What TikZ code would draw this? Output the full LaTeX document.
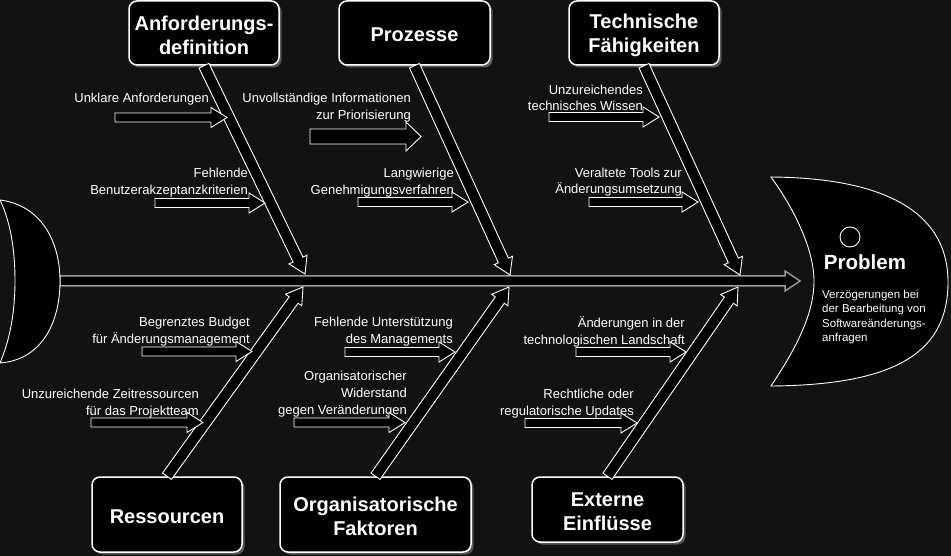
\documentclass[tikz,border=0pt]{standalone}
\usepackage{fontspec}
\setmainfont{Liberation Sans}
\usetikzlibrary{calc,shadows}

\definecolor{fishbg}{HTML}{121212}
\definecolor{spinegrey}{HTML}{9A9A9A}
\definecolor{boxshadow}{HTML}{595959}

% #1 style, #2 from, #3 to, #4 half width, #5 half head width, #6 head length
\newcommand{\fatarrow}[6][bone]{%
  \draw[#1] ($(#2)!#4!90:(#3)$) -- ($(#3)!#6!(#2)!#4!90:(#3)$)
    -- ($(#3)!#6!(#2)!#5!90:(#3)$) -- (#3)
    -- ($(#3)!#6!(#2)!#5!-90:(#3)$) -- ($(#3)!#6!(#2)!#4!-90:(#3)$)
    -- ($(#2)!#4!-90:(#3)$) -- cycle;}

\tikzset{
  category/.style={draw=white,line width=1.5pt,fill=black,rounded corners=8pt,
    drop shadow={shadow xshift=2.5pt,shadow yshift=-2.5pt,fill=boxshadow,opacity=1}},
  cattext/.style={text=white,font=\bfseries\fontsize{20}{24}\selectfont,align=center,inner sep=0pt},
  cause/.style={text=white,font=\fontsize{13}{17}\selectfont,align=right,anchor=east,inner sep=0pt},
  bone/.style={draw=white,fill=black,line width=0.9pt,line join=miter},
  spine/.style={draw=spinegrey,fill=black,line width=1.5pt},
  fishpart/.style={draw=white,fill=black,line width=0.9pt},
}

\begin{document}
\begin{tikzpicture}[x=1pt,y=-1pt]% [ show background grid ]
\fill[fishbg] (0,0) rectangle (951,556);
\useasboundingbox (0,0) rectangle (951,556);

\node[category,minimum width=150pt,minimum height=64pt] (anf) at (204,33) {};
\node[category,minimum width=151pt,minimum height=64pt] (proz) at (414.5,33) {};
\node[category,minimum width=150pt,minimum height=64pt] (tech) at (644,33) {};
\node[category,minimum width=150pt,minimum height=75pt] (ress) at (167,514.5) {};
\node[category,minimum width=191pt,minimum height=75pt] (org) at (375.5,514.5) {};
\node[category,minimum width=151pt,minimum height=65pt] (ext) at (607.5,509.5) {};
\node[cattext] (anf-text) at ([yshift=-2pt]anf.center) {Anforderungs-\\definition};
\node[cattext] (proz-text) at ([yshift=-2pt]proz.center) {Prozesse};
\node[cattext] (tech-text) at ([yshift=-2pt]tech.center) {Technische\\Fähigkeiten};
\node[cattext] (ress-text) at ([yshift=-2pt]ress.center) {Ressourcen};
\node[cattext] (org-text) at ([yshift=-2pt]org.center) {Organisatorische\\Faktoren};
\node[cattext] (ext-text) at ([yshift=-2pt]ext.center) {Externe\\Einflüsse};

\coordinate (tail) at (60,281);
\coordinate (head) at (800,281);
\fatarrow[spine]{tail}{head}{5pt}{10pt}{15pt}

\coordinate (anf-tip) at (305,274);
\coordinate (proz-tip) at (510,275);
\coordinate (tech-tip) at (740,275);
\coordinate (ress-tip) at (303,287);
\coordinate (org-tip) at (509,287);
\coordinate (ext-tip) at (738,287);
\fatarrow{anf.south}{anf-tip}{5.5pt}{10pt}{16pt}
\fatarrow{proz.south}{proz-tip}{5.5pt}{10pt}{16pt}
\fatarrow{tech.south}{tech-tip}{5.5pt}{10pt}{16pt}
\fatarrow{ress.north}{ress-tip}{5.5pt}{10pt}{16pt}
\fatarrow{org.north}{org-tip}{5.5pt}{10pt}{16pt}
\fatarrow{ext.north}{ext-tip}{5.5pt}{10pt}{16pt}

\node[cause] (unklar) at (209,99) {Unklare Anforderungen};
\coordinate (unklar-s) at (115,117.5);
\coordinate (unklar-e) at (227,117.5);
\fatarrow{unklar-s}{unklar-e}{4.5pt}{10pt}{16pt}

\node[cause] (akzept) at (248,182.5) {Fehlende\\Benutzerakzeptanzkriterien};
\coordinate (akzept-s) at (155,203);
\coordinate (akzept-e) at (265,203);
\fatarrow{akzept-s}{akzept-e}{4.5pt}{10pt}{16pt}

\node[cause] (prior) at (411,108) {Unvollständige Informationen\\zur Priorisierung};
\coordinate (prior-s) at (310,136.5);
\coordinate (prior-e) at (421,136.5);
\fatarrow{prior-s}{prior-e}{7.5pt}{14.5pt}{15pt}

\node[cause] (genehm) at (454,182.5) {Langwierige\\Genehmigungsverfahren};
\coordinate (genehm-s) at (358,202);
\coordinate (genehm-e) at (468,202);
\fatarrow{genehm-s}{genehm-e}{4.5pt}{10pt}{16pt}

\node[cause,font=\fontsize{13}{16}\selectfont] (wissen) at (643,98) {Unzureichendes\\technisches Wissen};
\coordinate (wissen-s) at (549,117);
\coordinate (wissen-e) at (659,117);
\fatarrow{wissen-s}{wissen-e}{4.5pt}{10pt}{16pt}

\node[cause,font=\fontsize{13}{16}\selectfont] (tools) at (682,182) {Veraltete Tools zur\\Änderungsumsetzung};
\coordinate (tools-s) at (589,202);
\coordinate (tools-e) at (698,202);
\fatarrow{tools-s}{tools-e}{4.5pt}{10pt}{16pt}

\node[cause] (budget) at (250,332) {Begrenztes Budget\\für Änderungsmanagement};
\coordinate (budget-s) at (142,351.5);
\coordinate (budget-e) at (252,351.5);
\fatarrow{budget-s}{budget-e}{4.5pt}{10pt}{16pt}

\node[cause] (zeit) at (199,403.5) {Unzureichende Zeitressourcen\\für das Projektteam};
\coordinate (zeit-s) at (91,422.5);
\coordinate (zeit-e) at (203,422.5);
\fatarrow{zeit-s}{zeit-e}{4.5pt}{10pt}{16pt}

\node[cause] (mgmt) at (453,332) {Fehlende Unterstützung\\des Managements};
\coordinate (mgmt-s) at (345,352);
\coordinate (mgmt-e) at (455,352);
\fatarrow{mgmt-s}{mgmt-e}{4.5pt}{10pt}{16pt}

\node[cause] (widerst) at (407,394) {Organisatorischer\\Widerstand\\gegen Veränderungen};
\coordinate (widerst-s) at (294,422.5);
\coordinate (widerst-e) at (405,422.5);
\fatarrow{widerst-s}{widerst-e}{4.5pt}{10pt}{16pt}

\node[cause] (landsch) at (685,332) {Änderungen in der\\technologischen Landschaft};
\coordinate (landsch-s) at (576,352);
\coordinate (landsch-e) at (686,352);
\fatarrow{landsch-s}{landsch-e}{4.5pt}{10pt}{16pt}

\node[cause] (recht) at (634,403.5) {Rechtliche oder\\regulatorische Updates};
\coordinate (recht-s) at (525,423);
\coordinate (recht-e) at (637,423);
\fatarrow{recht-s}{recht-e}{4.5pt}{10pt}{16pt}

\draw[fishpart] (0,200) .. controls (40,205) and (60,240) .. (60,281)
  .. controls (60,325) and (40,360) .. (0,363)
  .. controls (12,335) and (15,305) .. (15,281)
  .. controls (15,255) and (12,225) .. (0,200) -- cycle;

\draw[fishpart] (771,177) .. controls (890,178) and (948,215) .. (948,282)
  .. controls (948,350) and (900,385) .. (771,386)
  .. controls (795,350) and (814,315) .. (814,281)
  .. controls (814,250) and (795,210) .. (771,177) -- cycle;
\draw[fishpart] (850,237) circle (10pt);
\node[text=white,font=\bfseries\fontsize{20.5}{24}\selectfont] (problem) at (865,262) {Problem};
\node[text=white,font=\fontsize{11.5}{14.5}\selectfont,align=left,anchor=base west,inner sep=0pt] (desc) at (822,341.5)
  {Verzögerungen bei\\der Bearbeitung von\\Softwareänderungs-\\anfragen};
\end{tikzpicture}
\end{document}
